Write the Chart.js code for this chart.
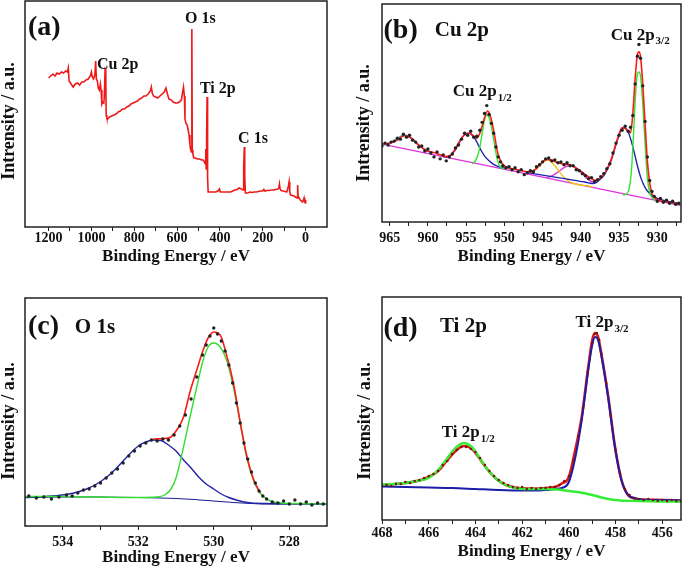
<!DOCTYPE html>
<html>
<head>
<meta charset="utf-8">
<script src="https://cdn.jsdelivr.net/npm/chart.js@4.4.0/dist/chart.umd.min.js"></script>
<style>
  body { margin: 0; background: #fff; }
  #wrap { position: relative; width: 685px; height: 567px; }
  canvas { position: absolute; }
</style>
</head>
<body>
<div id="wrap">
  <canvas id="panelA" width="342" height="280" style="left:0px;top:0px"></canvas>
  <canvas id="panelB" width="343" height="280" style="left:342px;top:0px"></canvas>
  <canvas id="panelC" width="342" height="287" style="left:0px;top:280px"></canvas>
  <canvas id="panelD" width="343" height="287" style="left:342px;top:280px"></canvas>
</div>
<script>
const FONT = '"Liberation Serif", "Times New Roman", serif';

// ---- (a) survey spectrum: [binding energy, intensity] ----
const surveyTicks = [1200, 1100, 1000, 900, 800, 700, 600, 500, 400, 300, 200, 100, 0];
const surveyLabels = [1200, 1000, 800, 600, 400, 200, 0];
const survey = [
  [1200, 149], [1190, 151], [1180, 153], [1170, 151], [1160, 154], [1150, 153], [1140, 155],
  [1130, 154], [1120, 156], [1112, 155], [1108, 159], [1104, 146], [1095, 143], [1085, 140],
  [1075, 143], [1065, 144], [1055, 142], [1045, 145], [1035, 145], [1025, 147], [1015, 148],
  [1005, 151], [1000, 155], [996, 150], [990, 148], [984, 152], [980, 166], [977, 148],
  [972, 146], [968, 139], [963, 137], [958, 143], [955, 137], [951, 123], [947, 125],
  [942, 124], [940, 129], [936, 158], [933, 157], [931, 112], [928, 109], [924, 108],
  [915, 110], [905, 111], [895, 112], [885, 113], [875, 115], [865, 116], [855, 118],
  [845, 118], [835, 120], [825, 121], [815, 123], [805, 124], [795, 125], [785, 126],
  [775, 128], [765, 129], [755, 131], [745, 131], [735, 133], [725, 136], [720, 140],
  [716, 134], [710, 131], [700, 130], [690, 129], [680, 131], [670, 133], [660, 135],
  [652, 139], [645, 133], [638, 128], [628, 127], [618, 125], [608, 124], [598, 124],
  [590, 125], [580, 127], [574, 135], [570, 140], [566, 131], [563, 108], [559, 104],
  [553, 102], [548, 97], [544, 92], [540, 82], [537, 78], [533, 75], [531, 198],
  [529, 77], [526, 73], [522, 69], [515, 69], [505, 68], [495, 68], [485, 67], [478, 67],
  [472, 65], [468, 63], [466, 78], [464, 58], [462, 88], [460, 130], [458, 100], [457, 50],
  [455, 35], [450, 35], [440, 35], [430, 35], [420, 35], [410, 36], [402, 38], [398, 35],
  [390, 35], [380, 35], [370, 35], [360, 35], [350, 35], [340, 36], [330, 37], [320, 37.5],
  [310, 39], [300, 38], [292, 37], [289, 60], [286, 80], [284, 50], [281, 34], [270, 34],
  [260, 35], [250, 34.5], [240, 35], [230, 35], [220, 35.5], [210, 36], [200, 36],
  [195, 37.5], [190, 36], [180, 36.5], [170, 36.5], [160, 37], [150, 37], [140, 37.5],
  [130, 38], [125, 39], [122, 43], [119, 38], [114, 36.5], [105, 36], [95, 35.5], [88, 35],
  [84, 38], [80, 41], [77, 45], [74, 35], [70, 32], [62, 31.5], [55, 31], [47, 30], [40, 29],
  [37, 42], [35, 31], [30, 29], [25, 27], [20, 26], [15, 25], [10, 27], [7, 29], [4, 25],
  [1, 24], [0, 27]
];

// ---- (b) Cu 2p ----
const cuTicks = [965, 962.5, 960, 957.5, 955, 952.5, 950, 947.5, 945, 942.5, 940, 937.5, 935, 932.5, 930, 927.5];
const cuLabels = [965, 960, 955, 950, 945, 940, 935, 930];
const cuData = [
  [966.0, 77], [965.6, 80], [965.2, 78], [964.8, 81], [964.4, 82], [964.0, 85], [963.6, 84],
  [963.2, 89], [962.8, 86], [962.4, 88], [962.0, 83], [961.6, 81], [961.2, 76], [960.8, 77],
  [960.4, 72], [960.0, 74], [959.6, 70], [959.2, 66], [958.8, 71], [958.4, 64], [958.0, 68],
  [957.6, 62], [957.2, 66], [956.8, 69], [956.4, 75], [956.0, 78], [955.6, 84], [955.2, 90],
  [954.8, 88], [954.4, 92], [954.0, 86], [953.6, 87], [953.2, 93], [952.9, 101], [952.6, 110],
  [952.3, 118], [952.0, 109], [951.7, 100], [951.4, 90], [951.1, 76], [950.8, 66], [950.5, 61],
  [950.2, 57], [949.8, 55], [949.4, 56], [949.0, 53], [948.6, 55], [948.2, 51], [947.8, 53],
  [947.4, 48], [947.0, 50], [946.6, 52], [946.2, 51], [945.8, 56], [945.4, 58], [945.0, 61],
  [944.6, 64], [944.2, 65], [943.8, 62], [943.4, 63], [943.0, 60], [942.6, 61], [942.2, 58],
  [941.8, 60], [941.4, 57], [941.0, 57], [940.6, 53], [940.2, 52], [939.8, 49], [939.4, 47],
  [939.0, 44], [938.6, 45], [938.2, 41], [937.8, 43], [937.4, 46], [937.0, 49], [936.6, 54],
  [936.2, 59], [935.8, 70], [935.4, 80], [935.0, 88], [934.6, 93], [934.2, 97], [933.8, 92],
  [933.5, 96], [933.2, 108], [932.9, 140], [932.6, 168], [932.4, 180], [932.2, 166],
  [931.9, 138], [931.6, 102], [931.3, 66], [931.0, 42], [930.7, 31], [930.4, 26], [930.0, 21],
  [929.6, 24], [929.2, 20], [928.8, 22], [928.4, 19], [928.0, 21], [927.6, 18], [927.2, 19]
];
const cuEnvelope = [
  [966, 79], [965, 80], [964, 83], [963.5, 86], [963, 87.5], [962.5, 86.5], [962, 84],
  [961.5, 80], [961, 77], [960.5, 74], [960, 72], [959.5, 71], [959, 70], [958.5, 68.5],
  [958, 67], [957.5, 66.5], [957, 68], [956.5, 73], [956, 80], [955.5, 86], [955, 89.5],
  [954.5, 90], [954, 87], [953.6, 85], [953.2, 90], [952.8, 100], [952.5, 108], [952.2, 112.5],
  [951.9, 109], [951.5, 97], [951.2, 84], [950.9, 71], [950.5, 62], [950, 57], [949.5, 55],
  [949, 54], [948, 52.5], [947, 51], [946.5, 51], [946, 53], [945.5, 57], [945, 61],
  [944.5, 63.5], [944, 63], [943.5, 61.5], [943, 60], [942.5, 59], [942, 58.5], [941.5, 58],
  [941, 56.5], [940.5, 54], [940, 51.5], [939.5, 48.5], [939, 46], [938.5, 43.5], [938, 42],
  [937.5, 44], [937, 48], [936.5, 55], [936, 64], [935.5, 77], [935, 89], [934.6, 95.5],
  [934.2, 95], [933.8, 92], [933.5, 90.5], [933.2, 110], [932.9, 145], [932.6, 170],
  [932.4, 172.5], [932.2, 168], [931.9, 140], [931.6, 100], [931.3, 62], [931, 40],
  [930.7, 29], [930.3, 24], [930, 22.5], [929.5, 21], [929, 20.5], [928, 19.5], [927, 18.5]
];
const cuBackground = [[966, 79], [955, 61.5], [945, 45.5], [935, 29.5], [927, 17]];
const cuSat963 = [
  [966, 78.5], [965, 80], [964.5, 82], [964, 84.5], [963.5, 87], [963, 88], [962.5, 87],
  [962, 84], [961.5, 80], [961, 76.5], [960.5, 73.5], [960, 71.5], [959.5, 70.5]
];
const cu2p12Sat = [
  [958, 66], [957.5, 66], [957, 67.5], [956.5, 72], [956, 79], [955.5, 86], [955, 89.5],
  [954.6, 90], [954.2, 88], [953.8, 84], [953.4, 78], [953, 72], [952.5, 66], [952, 62],
  [951.5, 59], [951, 57], [950.5, 55.5], [950, 54.5]
];
const cu2p12 = [
  [954.2, 59], [953.8, 62], [953.5, 67], [953.2, 76], [952.9, 90], [952.6, 103], [952.3, 108.5],
  [952, 106], [951.7, 97], [951.4, 84], [951.1, 70], [950.8, 60], [950.5, 55.5], [950, 54]
];
const cuSat944 = [
  [947, 49.5], [946.5, 50.5], [946, 52.5], [945.5, 56], [945, 60], [944.6, 62.5], [944.3, 63],
  [944, 62], [943.5, 58], [943, 53], [942.5, 48], [942, 44], [941.5, 41], [941, 39],
  [940, 37.5], [939, 36.5], [938.5, 35]
];
const cuSat941 = [
  [944.5, 45], [944, 46], [943.5, 48], [943, 50.5], [942.5, 53.5], [942, 56], [941.6, 57],
  [941.2, 57], [940.8, 56], [940.3, 53], [939.8, 49], [939.3, 45], [938.8, 42], [938.3, 40]
];
const cu2p32Sat = [
  [947, 50], [945, 47.5], [943, 45], [941, 42.5], [939.5, 40.5], [938.5, 39], [938, 40],
  [937.5, 43], [937, 47], [936.5, 54], [936, 63], [935.5, 76], [935, 88], [934.6, 95],
  [934.2, 95], [933.8, 91], [933.4, 82], [933, 70], [932.6, 57], [932.2, 46], [931.8, 38],
  [931.4, 32.5], [931, 29], [930.5, 26], [930, 24], [929, 21.5], [927, 18.5]
];
const cu2p32 = [
  [934.5, 27.5], [934, 28.5], [933.7, 33], [933.4, 50], [933.1, 90], [932.8, 135], [932.6, 150],
  [932.4, 152], [932.2, 148], [931.9, 120], [931.6, 80], [931.3, 45], [931, 30], [930.6, 24],
  [930.2, 22]
];

// ---- (c) O 1s ----
const oTicks = [534, 533, 532, 531, 530, 529, 528];
const oLabels = [534, 532, 530, 528];
const oData = [
  [534.9, 27], [534.7, 25], [534.5, 26], [534.3, 24], [534.1, 26], [533.9, 28], [533.75, 27],
  [533.6, 30], [533.45, 33], [533.3, 34], [533.15, 37], [533.0, 40], [532.85, 45], [532.7, 50],
  [532.55, 54], [532.4, 60], [532.25, 67], [532.1, 72], [531.95, 77], [531.8, 80], [531.65, 83],
  [531.5, 82], [531.35, 84], [531.2, 83], [531.05, 88], [530.9, 97], [530.75, 108], [530.6, 124],
  [530.45, 146], [530.3, 168], [530.2, 178], [530.1, 187], [530.0, 195], [529.9, 189],
  [529.8, 182], [529.7, 172], [529.6, 158], [529.5, 140], [529.4, 120], [529.3, 100],
  [529.2, 80], [529.1, 64], [529.0, 51], [528.9, 40], [528.8, 32], [528.7, 27], [528.6, 24],
  [528.45, 21], [528.3, 20], [528.15, 22], [528.0, 19], [527.85, 23], [527.7, 19], [527.55, 21],
  [527.4, 18], [527.25, 20], [527.1, 19]
];
const oEnvelope = [
  [531.6, 84], [531.3, 84.5], [531.16, 85.5], [530.98, 93], [530.8, 106], [530.63, 131],
  [530.45, 153], [530.28, 173], [530.15, 185], [530.0, 191], [529.83, 188], [529.66, 168],
  [529.48, 140], [529.3, 101], [529.13, 68], [528.95, 44], [528.77, 30]
];
const oBackground = [
  [535, 25.5], [534, 26], [533, 26], [532, 25.5], [531, 24.5], [530.5, 23.5], [530, 22],
  [529.5, 20.5], [529, 19.5], [528.5, 19], [527, 19]
];
const oLattice = [
  [535, 26.5], [534, 26.5], [533, 26], [532, 25.5], [531.5, 26], [531.3, 28], [531.15, 33],
  [531.0, 45], [530.8, 76], [530.63, 106], [530.45, 136], [530.28, 163], [530.15, 176],
  [530.0, 180], [529.83, 176], [529.66, 163], [529.48, 136], [529.3, 100], [529.13, 66],
  [528.95, 43], [528.77, 30], [528.5, 22], [528.2, 20], [527.8, 19.5], [527, 19]
];
const oSurface = [
  [535, 25.5], [534.5, 26.5], [534, 28], [533.7, 30], [533.4, 33.5], [533.1, 39], [532.8, 47],
  [532.6, 54], [532.4, 62], [532.2, 70], [532.0, 77], [531.8, 81], [531.6, 83], [531.4, 82.5],
  [531.2, 78], [531.0, 72], [530.8, 63], [530.6, 55], [530.4, 46], [530.2, 39], [530.0, 34],
  [529.8, 29], [529.6, 25.5], [529.4, 23], [529.2, 21], [529.0, 20], [528.6, 19.5], [527, 19]
];

// ---- (d) Ti 2p ----
const tiTicks = [468, 467, 466, 465, 464, 463, 462, 461, 460, 459, 458, 457, 456];
const tiLabels = [468, 466, 464, 462, 460, 458, 456];
const tiData = [
  [468.0, 34], [467.8, 35], [467.6, 34], [467.4, 36], [467.2, 36], [467.0, 38], [466.8, 37],
  [466.6, 39], [466.4, 40], [466.2, 42], [466.0, 44], [465.8, 46], [465.6, 49], [465.4, 55],
  [465.2, 59], [465.0, 66], [464.8, 70], [464.6, 73], [464.4, 73], [464.2, 71], [464.0, 68],
  [463.8, 62], [463.6, 55], [463.4, 49], [463.2, 44], [463.0, 40], [462.8, 37], [462.6, 35],
  [462.4, 33], [462.2, 32], [462.0, 33], [461.8, 31], [461.6, 32], [461.4, 31], [461.2, 32],
  [461.0, 32], [460.8, 33], [460.6, 33], [460.4, 35], [460.2, 39], [460.0, 44], [459.8, 60],
  [459.6, 84], [459.4, 112], [459.2, 148], [459.0, 177], [458.9, 186], [458.8, 187],
  [458.7, 180], [458.6, 166], [458.4, 137], [458.2, 104], [458.0, 70], [457.8, 46], [457.6, 31],
  [457.4, 25], [457.2, 22], [457.0, 21], [456.8, 20], [456.6, 21], [456.4, 20], [456.2, 19],
  [456.0, 20], [455.8, 19], [455.6, 20], [455.4, 19], [455.2, 19]
];
const tiEnvelope = [
  [468, 35], [467, 37], [466.2, 41], [465.6, 49], [465.2, 60], [464.8, 70], [464.5, 74],
  [464.2, 72], [463.9, 64], [463.5, 51], [463.1, 41], [462.7, 35], [462.3, 32.5], [461.7, 31.5],
  [461, 32], [460.6, 33], [460.3, 36.5], [460.0, 43], [459.73, 70], [459.45, 103], [459.17, 153],
  [459.0, 180], [458.88, 187], [458.75, 183], [458.6, 165], [458.32, 124], [458.03, 74],
  [457.75, 40], [457.47, 25], [457.2, 21.5], [456.9, 20.5], [456, 20], [455.2, 19.5]
];
const ti2p32 = [
  [468, 33.5], [467, 33], [466, 32.5], [465, 32], [464, 31], [463, 30], [462, 29.5],
  [461.5, 29.5], [461, 30], [460.6, 31], [460.3, 32], [460.0, 38], [459.73, 62], [459.45, 100],
  [459.17, 150], [459.0, 175], [458.88, 183], [458.75, 180], [458.6, 163], [458.32, 123],
  [458.03, 73], [457.75, 40], [457.47, 25], [457.2, 22], [456.9, 20.5], [456, 20], [455.2, 19.5]
];
const ti2p12 = [
  [468, 35.5], [467.5, 36], [467, 37], [466.5, 39], [466, 42], [465.6, 50], [465.2, 62],
  [464.9, 71], [464.5, 77], [464.2, 74], [463.9, 65], [463.5, 51], [463.1, 41], [462.7, 35],
  [462.3, 32], [461.7, 31], [461, 31], [460.5, 30.5], [460, 29], [459.5, 27.5], [459, 25],
  [458.6, 22.5], [458.2, 20.5], [457.8, 19.5], [457, 19], [456, 18.5], [455.2, 18.3]
];

function toXY(pairs) {
  return pairs.map(p => ({ x: p[0], y: p[1] }));
}

function lineSet(pairs, color, width, smooth) {
  return {
    data: toXY(pairs),
    borderColor: color,
    borderWidth: width,
    pointRadius: 0,
    fill: false,
    cubicInterpolationMode: smooth === false ? 'default' : 'monotone'
  };
}

function dotSet(pairs, color, radius) {
  return {
    data: toXY(pairs),
    showLine: false,
    pointRadius: radius,
    pointBackgroundColor: color,
    pointBorderColor: color,
    pointBorderWidth: 0
  };
}

// box around the plot area
const framePlugin = {
  id: 'frame',
  afterDraw(chart) {
    const a = chart.chartArea;
    const ctx = chart.ctx;
    ctx.save();
    ctx.strokeStyle = '#222';
    ctx.lineWidth = 1.5;
    ctx.strokeRect(a.left, a.top, a.right - a.left, a.bottom - a.top);
    ctx.restore();
  }
};

// peak names and panel letters, anchored in data coordinates
const notePlugin = {
  id: 'notes',
  afterDraw(chart, args, opts) {
    const ctx = chart.ctx;
    const xs = chart.scales.x, ys = chart.scales.y;
    ctx.save();
    ctx.fillStyle = '#111';
    ctx.textAlign = 'left';
    ctx.textBaseline = 'alphabetic';
    (opts.items || []).forEach(n => {
      const px = xs.getPixelForValue(n.x);
      const py = ys.getPixelForValue(n.y);
      ctx.font = 'bold ' + n.size + 'px ' + FONT;
      ctx.fillText(n.text, px, py);
      if (n.sub) {
        const w = ctx.measureText(n.text).width;
        ctx.font = 'bold ' + Math.round(n.size * 0.62) + 'px ' + FONT;
        ctx.fillText(n.sub, px + w + 1, py + n.size * 0.28);
      }
    });
    // vertical axis caption, sits a bit below the middle of the axis
    if (opts.yTitle) {
      ctx.translate(opts.yTitle.x, opts.yTitle.y);
      ctx.rotate(-Math.PI / 2);
      ctx.textAlign = 'center';
      ctx.textBaseline = 'middle';
      ctx.font = 'bold 18px ' + FONT;
      ctx.fillText('Intrensity / a.u.', 0, 0);
    }
    ctx.restore();
  }
};

function makePanel(id, cfg) {
  const ctx = document.getElementById(id).getContext('2d');
  return new Chart(ctx, {
    type: 'line',
    data: { datasets: cfg.datasets },
    options: {
      responsive: false,
      animation: false,
      devicePixelRatio: 1,
      layout: { padding: cfg.padding },
      plugins: {
        legend: { display: false },
        tooltip: { enabled: false },
        notes: { items: cfg.notes, yTitle: cfg.yTitle }
      },
      scales: {
        x: {
          type: 'linear',
          reverse: true,
          min: cfg.xMin,
          max: cfg.xMax,
          afterBuildTicks: s => { s.ticks = cfg.ticks.map(v => ({ value: v })); },
          afterFit: s => { s.height = cfg.xHeight; },
          grid: { drawOnChartArea: false, tickLength: 4, color: '#222', lineWidth: 1 },
          border: { display: false },
          ticks: {
            autoSkip: false,
            maxRotation: 0,
            padding: cfg.tickPad,
            color: '#111',
            font: { family: FONT, size: 14, weight: 'bold', lineHeight: 1 },
            callback: v => cfg.labels.includes(v) ? String(v) : ''
          },
          title: {
            display: true,
            text: 'Binding Energy / eV',
            color: '#111',
            font: { family: FONT, size: 17, weight: 'bold', lineHeight: 1 },
            padding: { top: 0, bottom: cfg.titlePad }
          }
        },
        y: {
          min: cfg.yMin,
          max: cfg.yMax,
          afterFit: s => { s.width = cfg.yWidth; },
          grid: { display: false },
          border: { display: false },
          ticks: { display: false }
        }
      }
    },
    plugins: [framePlugin, notePlugin]
  });
}

makePanel('panelA', {
  datasets: [lineSet(survey, '#ee1a1a', 1.6, false)],
  xMin: -100, xMax: 1310, yMin: 0, yMax: 226,
  ticks: surveyTicks, labels: surveyLabels,
  padding: { left: 0, top: 1, right: 15, bottom: 0 },
  yWidth: 25, xHeight: 53, tickPad: 0, titlePad: 15,
  yTitle: { x: 9, y: 121 },
  notes: [
    { text: '(a)', x: 1296, y: 192, size: 28 },
    { text: 'Cu 2p', x: 974, y: 158, size: 16 },
    { text: 'O 1s', x: 563, y: 204, size: 16 },
    { text: 'Ti 2p', x: 493, y: 134, size: 16 },
    { text: 'C 1s', x: 315, y: 84, size: 16 }
  ]
});

makePanel('panelB', {
  datasets: [
    dotSet(cuData, '#222', 1.7),
    lineSet(cuEnvelope, '#ff1a1a', 1.6),
    lineSet(cu2p32, '#2ee62e', 1.4),
    lineSet(cu2p12, '#2ee62e', 1.4),
    lineSet(cu2p32Sat, '#2020b0', 1.4),
    lineSet(cu2p12Sat, '#2020b0', 1.4),
    lineSet(cuSat944, '#f0c419', 1.4),
    lineSet(cuSat941, '#e033e0', 1.4),
    lineSet(cuSat963, '#22a8a8', 1.4),
    lineSet(cuBackground, '#e033e0', 1.4)
  ],
  xMin: 926.9, xMax: 966, yMin: 0, yMax: 221,
  ticks: cuTicks, labels: cuLabels,
  padding: { left: 0, top: 1, right: 2, bottom: 0 },
  yWidth: 40, xHeight: 58, tickPad: 5, titlePad: 15,
  yTitle: { x: 22, y: 123 },
  notes: [
    { text: '(b)', x: 965.8, y: 187, size: 28 },
    { text: 'Cu 2p', x: 959.1, y: 189, size: 21 },
    { text: 'Cu 2p', sub: '1/2', x: 956.75, y: 127.5, size: 17 },
    { text: 'Cu 2p', sub: '3/2', x: 936.1, y: 185, size: 17 }
  ]
});

makePanel('panelC', {
  datasets: [
    dotSet(oData, '#222', 1.7),
    lineSet(oEnvelope, '#ff1a1a', 1.6),
    lineSet(oLattice, '#33dd33', 1.4),
    lineSet(oSurface, '#2222aa', 1.4),
    lineSet(oBackground, '#1c1c90', 1.2)
  ],
  xMin: 527, xMax: 535, yMin: -3, yMax: 225,
  ticks: oTicks, labels: oLabels,
  padding: { left: 0, top: 18, right: 15, bottom: 0 },
  yWidth: 25, xHeight: 41, tickPad: 5, titlePad: 1,
  yTitle: { x: 9, y: 141 },
  notes: [
    { text: '(c)', x: 534.92, y: 189, size: 28 },
    { text: 'O 1s', x: 533.68, y: 190, size: 21 }
  ]
});

makePanel('panelD', {
  datasets: [
    dotSet(tiData, '#7a1010', 1.2),
    lineSet(ti2p12, '#33ee33', 2.4),
    lineSet(ti2p32, '#1d1da8', 2),
    lineSet(tiEnvelope, '#e01818', 2.6)
  ],
  xMin: 455.2, xMax: 468, yMin: 0, yMax: 223,
  ticks: tiTicks, labels: tiLabels,
  padding: { left: 0, top: 17, right: 2, bottom: 0 },
  yWidth: 40, xHeight: 47, tickPad: 2.5, titlePad: 7,
  yTitle: { x: 23, y: 141 },
  notes: [
    { text: '(d)', x: 467.94, y: 184, size: 28 },
    { text: 'Ti 2p', x: 465.52, y: 188, size: 21 },
    { text: 'Ti 2p', sub: '3/2', x: 459.72, y: 193, size: 17 },
    { text: 'Ti 2p', sub: '1/2', x: 465.44, y: 83, size: 17 }
  ]
});
</script>
</body>
</html>
